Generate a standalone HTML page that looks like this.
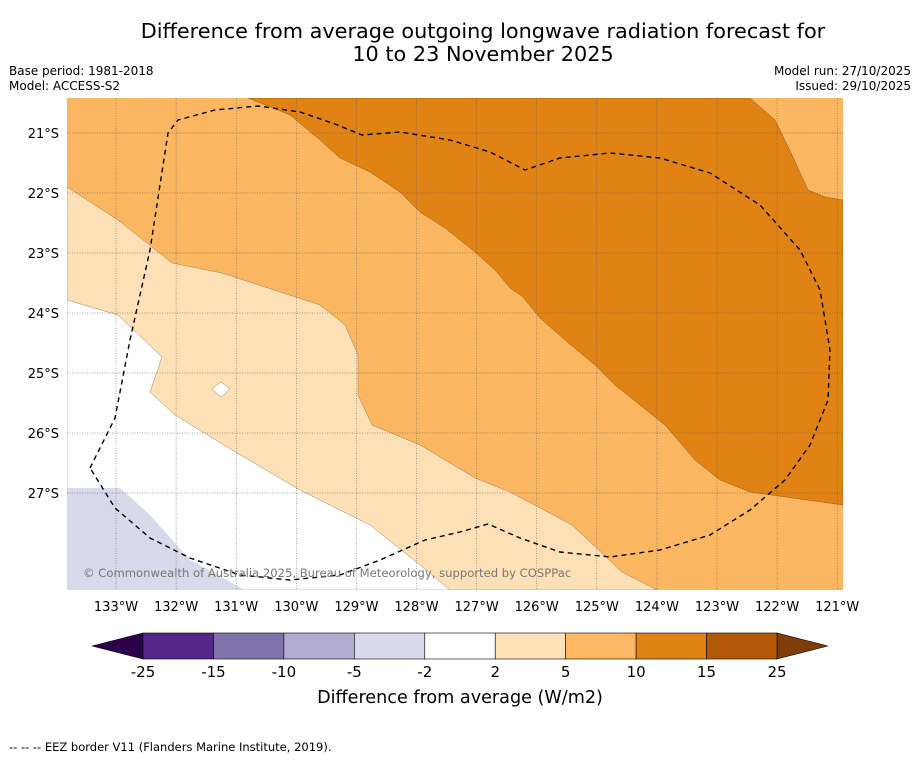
<!DOCTYPE html>
<html><head><meta charset="utf-8">
<style>
html,body{margin:0;padding:0;background:#fff;}
body{width:919px;height:758px;overflow:hidden;font-family:"Liberation Sans","DejaVu Sans",sans-serif;}
svg text{font-family:"DejaVu Sans","Liberation Sans",sans-serif;}
</style></head>
<body>
<svg id="chart" width="919" height="758" xmlns="http://www.w3.org/2000/svg">
  <text x="483" y="38" text-anchor="middle" font-size="20.8">Difference from average outgoing longwave radiation forecast for</text>
  <text x="483" y="61" text-anchor="middle" font-size="20.8">10 to 23 November 2025</text>
  <text x="9" y="75" font-size="12">Base period: 1981-2018</text>
  <text x="9" y="90" font-size="12">Model: ACCESS-S2</text>
  <text x="911" y="75" font-size="12" text-anchor="end">Model run: 27/10/2025</text>
  <text x="911" y="90" font-size="12" text-anchor="end">Issued: 29/10/2025</text>

  <defs><clipPath id="mapclip"><rect x="67" y="98" width="776" height="492"/></clipPath></defs>
  <g clip-path="url(#mapclip)">
    <rect x="67" y="98" width="776" height="492" fill="#fbb661"/>
    <polygon fill="#fde0b6" stroke="#8a6a40" stroke-width="0.4"
      points="67,187 118,220 172,263 222,273 320,305 345,325 358,355 358,395 372,425 420,445 475,478 510,492 572,525 622,572 657,590 67,590"/>
    <polygon fill="#ffffff" stroke="#8a6a40" stroke-width="0.4"
      points="67,300 118,315 162,357 150,392 175,415 232,450 300,490 370,525 420,565 450,590 67,590"/>
    <polygon fill="#d8d9ea"
      points="67,488 120,488 150,515 190,560 245,590 67,590"/>
    <polygon fill="#ffffff" stroke="#8a6a40" stroke-width="0.4" points="221,382 230,389 221,397 212,389"/>
    <polygon fill="#e08214" stroke="#7a4a10" stroke-width="0.4"
      points="248,98 750,98 775,120 792,155 808,190 825,197 843,200 843,505 750,492 720,480 695,460 665,425 640,405 615,385 595,365 565,340 540,318 522,296 510,288 495,270 475,252 445,228 420,212 400,192 370,172 340,158 320,140 290,115"/>
    <g id="grid" stroke="#555" stroke-width="0.5" stroke-dasharray="1,1.5"></g>
    <polyline fill="none" stroke="#000" stroke-width="1.4" stroke-dasharray="5,4"
      points="90,468 115,418 130,340 150,250 168,133 178,120 215,110 258,106 300,112 335,124 362,135 400,132 450,140 490,152 525,170 560,158 610,153 660,158 710,173 760,205 800,250 820,290 830,350 828,400 810,445 785,480 750,510 710,535 660,550 610,557 560,552 520,538 488,524 460,532 425,540 380,560 340,575 290,580 240,575 190,558 150,538 115,508 90,468"/>
    <text x="83" y="577" font-size="11.6" fill="#777">© Commonwealth of Australia 2025, Bureau of Meteorology, supported by COSPPac</text>
  </g>
  <g id="axes"></g>
  <g id="cbar"></g>
  <text x="460" y="703" text-anchor="middle" font-size="17.6">Difference from average (W/m2)</text>
  <text x="9" y="751" font-size="11.5">--  --  -- EEZ border V11 (Flanders Marine Institute, 2019).</text>
</svg>
<script>
const lonLabels = ["133°W","132°W","131°W","130°W","129°W","128°W","127°W","126°W","125°W","124°W","123°W","122°W","121°W"];
const latLabels = ["21°S","22°S","23°S","24°S","25°S","26°S","27°S"];
const levels = [-25,-15,-10,-5,-2,2,5,10,15,25];
const colors = ["#542788","#8073ac","#b2abd2","#d8daeb","#ffffff","#fee0b6","#fdb863","#e08214","#b35806"];
const NS="http://www.w3.org/2000/svg";
const lonX = i => 116 + i*60.1;
const latY = i => 133 + i*60;
const grid=document.getElementById('grid'), axes=document.getElementById('axes');
function mk(tag, attrs, parent){const e=document.createElementNS(NS,tag);for(const k in attrs)e.setAttribute(k,attrs[k]);parent.appendChild(e);return e;}
lonLabels.forEach((l,i)=>{
  const x=lonX(i);
  const g=mk('line',{x1:x,x2:x,y1:98,y2:590},grid);
  
  
  const t=mk('text',{x:x,y:611,'text-anchor':'middle','font-size':13},axes);
  t.textContent=l;
  
  
});
latLabels.forEach((l,i)=>{
  const y=latY(i);
  const g=mk('line',{x1:67,x2:843,y1:y,y2:y},grid);
  
  
  const t=mk('text',{x:59,y:y+5,'text-anchor':'end','font-size':13},axes);
  t.textContent=l;
  
  
});
const cb=document.getElementById('cbar');
const x0=143,x1=777,y0=633,h=26,n=colors.length,w=(x1-x0)/n;
const lt=mk('polygon',{points:`92,646 ${x0},${y0} ${x0},${y0+h}`,fill:'#2d004b',stroke:'#000','stroke-width':0.6},cb);


const rt=mk('polygon',{points:`828,646 ${x1},${y0} ${x1},${y0+h}`,fill:'#7f3b08',stroke:'#000','stroke-width':0.6},cb);


colors.forEach((c,i)=>{
  const r=mk('rect',{x:x0+i*w,y:y0,width:w,height:h,fill:c,stroke:'#000','stroke-width':0.6},cb);
  
  
});
levels.forEach((v,i)=>{
  const t=mk('text',{x:x0+i*w,y:677,'text-anchor':'middle','font-size':15},cb);
  t.textContent=v;
  
  
});
</script>
</body></html>
